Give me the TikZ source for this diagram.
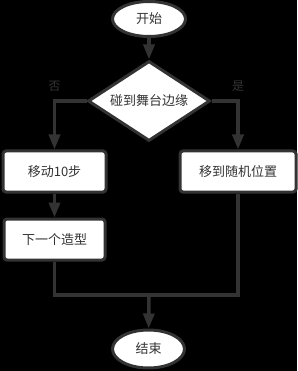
\documentclass[tikz,border=0pt]{standalone}
\usepackage{fontspec}
\usepackage{xcolor}
\usepackage{tikz}
\usetikzlibrary{arrows.meta, calc, shapes.geometric}
\newfontfamily\cjk{Noto Sans CJK SC}
\definecolor{flowline}{RGB}{51,51,51}
\definecolor{flowtext}{RGB}{51,51,51}
\definecolor{flowbg}{RGB}{0,0,0}

\begin{document}
\begin{tikzpicture}[x=1pt, y=-1pt, >={Triangle[length=15pt, width=11pt]},
  every node/.style={font=\cjk\fontsize{13pt}{15pt}\selectfont, text=flowtext},
  terminal/.style={ellipse, draw=flowline, fill=white, line width=3pt, inner sep=0pt},
  decision/.style={diamond, draw=flowline, fill=white, line width=3pt, inner sep=0pt, shape aspect=1.5, minimum width=122pt, minimum height=80pt},
  process/.style={rectangle, rounded corners=3pt, draw=flowline, fill=white, line width=3pt, minimum height=41pt},
  flow/.style={draw=flowline, line width=3.5pt},
  branchlbl/.style={font=\cjk\fontsize{12pt}{14pt}\selectfont, text=flowtext}]
  \fill[flowbg] (0,0) rectangle (297,371);
  \useasboundingbox (0,0) rectangle (297,371);
  % nodes
  \node[terminal, minimum width=73pt, minimum height=35pt] (start) at (149,19) {开始};
  \node[decision] (edge) at (149,101) {碰到舞台边缘};
  \node[process, minimum width=103pt] (move) at (54.5,171.5) {移动10步};
  \node[process, minimum width=101pt] (costume) at (54.5,239.5) {下一个造型};
  \node[process, minimum width=116pt] (random) at (238,171.5) {移到随机位置};
  \node[terminal, minimum width=72pt, minimum height=38pt] (stop) at (148.5,349) {结束};
  \coordinate (merge) at (149,295);
  % connectors
  \draw[flow, ->] (start) -- (edge);
  \draw[flow, ->] (edge.west) -| (move.north) node[branchlbl, pos=0.5, above=4pt] (no) {否};
  \draw[flow, ->] (edge.east) -| (random.north) node[branchlbl, pos=0.5, above=4pt] (yes) {是};
  \draw[flow, ->] (move) -- (costume);
  \draw[flow] (costume.south) |- (merge);
  \draw[flow] (random.south) |- (merge);
  \draw[flow, ->] (merge) -- (stop);
\end{tikzpicture}
\end{document}
